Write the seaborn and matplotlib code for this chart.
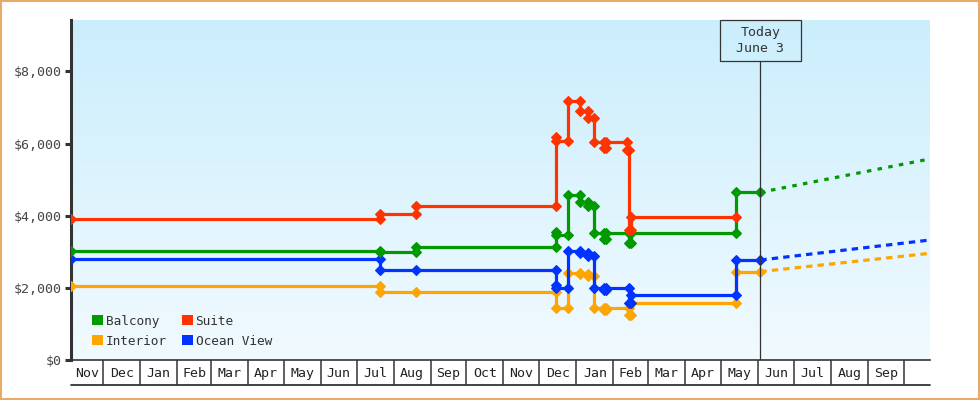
import numpy as np
import pandas as pd
import matplotlib
matplotlib.use("Agg")
import matplotlib.pyplot as plt
import matplotlib.dates as mdates
import matplotlib.patches as mpatches
import matplotlib.transforms as mtransforms
import seaborn as sns

sns.set_theme(style="white")
plt.rcParams['font.family'] = ['DejaVu Sans Mono', 'DejaVu Sans']

# ---------------- data ----------------
suite_dates = ["2022-11-04", "2023-07-21", "2023-07-21", "2023-08-20", "2023-08-20",
               "2023-12-15", "2023-12-15", "2023-12-15", "2023-12-25", "2023-12-25",
               "2024-01-04", "2024-01-04", "2024-01-11", "2024-01-11", "2024-01-16",
               "2024-01-16", "2024-01-24", "2024-01-24", "2024-01-26", "2024-01-26",
               "2024-02-12", "2024-02-12", "2024-02-14", "2024-02-14", "2024-02-16",
               "2024-02-16", "2024-05-14"]
suite_prices = [3900, 3900, 4060, 4060, 4270,
                4270, 6170, 6070, 6070, 7170,
                7170, 6910, 6910, 6720, 6720,
                6050, 6050, 5870, 5870, 6050,
                6050, 5820, 5820, 3600, 3600,
                3975, 3975]

balcony_dates = ["2022-11-04", "2023-07-21", "2023-07-21", "2023-08-20", "2023-08-20",
                 "2023-12-15", "2023-12-15", "2023-12-15", "2023-12-25", "2023-12-25",
                 "2024-01-04", "2024-01-04", "2024-01-11", "2024-01-11", "2024-01-16",
                 "2024-01-16", "2024-01-24", "2024-01-24", "2024-01-26", "2024-01-26",
                 "2024-02-14", "2024-02-14", "2024-02-16", "2024-02-16", "2024-05-14",
                 "2024-05-14", "2024-06-03"]
balcony_prices = [3025, 3025, 3005, 3005, 3145,
                  3145, 3560, 3470, 3470, 4580,
                  4580, 4390, 4390, 4270, 4270,
                  3515, 3515, 3350, 3350, 3515,
                  3515, 3250, 3250, 3515, 3515,
                  4650, 4650]

ocean_dates = ["2022-11-04", "2023-07-21", "2023-07-21", "2023-08-20", "2023-12-15",
               "2023-12-15", "2023-12-15", "2023-12-25", "2023-12-25", "2024-01-04",
               "2024-01-04", "2024-01-11", "2024-01-11", "2024-01-16", "2024-01-16",
               "2024-01-24", "2024-01-24", "2024-01-26", "2024-01-26", "2024-02-14",
               "2024-02-14", "2024-02-16", "2024-02-16", "2024-05-14", "2024-05-14",
               "2024-06-03"]
ocean_prices = [2800, 2800, 2500, 2500, 2500,
                2085, 1995, 1995, 3025, 3025,
                2960, 2960, 2890, 2890, 2010,
                2010, 1945, 1945, 2010, 2010,
                1590, 1590, 1805, 1805, 2776,
                2776]

interior_dates = ["2022-11-04", "2023-07-21", "2023-07-21", "2023-08-20", "2023-12-15",
                  "2023-12-15", "2023-12-25", "2023-12-25", "2024-01-04", "2024-01-04",
                  "2024-01-11", "2024-01-11", "2024-01-16", "2024-01-16", "2024-01-24",
                  "2024-01-24", "2024-01-26", "2024-01-26", "2024-02-14", "2024-02-14",
                  "2024-02-16", "2024-02-16", "2024-05-14", "2024-05-14", "2024-06-03"]
interior_prices = [2055, 2055, 1890, 1890, 1890,
                   1440, 1440, 2425, 2425, 2390,
                   2390, 2340, 2340, 1440, 1440,
                   1380, 1380, 1440, 1440, 1260,
                   1260, 1580, 1580, 2455, 2455]

forecast_dates = ["2024-06-03", "2024-10-23"]
balcony_forecast = [4650, 5575]
ocean_forecast = [2776, 3330]
interior_forecast = [2455, 2962]

legend_order = ["Balcony", "Interior", "Suite", "Ocean View"]
colors = {"Balcony": "#009900", "Interior": "#ffa500",
          "Suite": "#ff3300", "Ocean View": "#0033ff"}

month_labels = ["Nov", "Dec", "Jan", "Feb", "Mar", "Apr", "May", "Jun", "Jul", "Aug",
                "Sep", "Oct", "Nov", "Dec", "Jan", "Feb", "Mar", "Apr", "May", "Jun",
                "Jul", "Aug", "Sep"]
y_ticks = [0, 2000, 4000, 6000, 8000]
y_tick_labels = ["$0", "$2,000", "$4,000", "$6,000", "$8,000"]

x_start, x_end = "2022-11-04", "2024-10-23"
today = "2024-06-03"
today_label = "Today\nJune 3"
y_max = 9420

# ---------------- figure ----------------
W, H = 980, 400
fig = plt.figure(figsize=(W / 100, H / 100), dpi=100)
fig.patch.set_facecolor("white")
ax_l, ax_r, ax_t, ax_b = 71, 930, 20, 360.3
ax = fig.add_axes([ax_l / W, 1 - ax_b / H, (ax_r - ax_l) / W, (ax_b - ax_t) / H])
ax_h_px = ax_b - ax_t

# gradient background
grad = np.linspace(0, 1, 256).reshape(-1, 1)
top_c = np.array([0.796, 0.933, 0.988])
bot_c = np.array([0.945, 0.980, 1.0])
img = top_c[None, None, :] * (1 - grad[:, :, None]) + bot_c[None, None, :] * grad[:, :, None]
ax.imshow(img, extent=[0, 1, 0, 1], transform=ax.transAxes, aspect="auto", zorder=0)

def series(dates, prices, name, **kw):
    d = pd.DataFrame({"date": pd.to_datetime(dates), "price": prices})
    sns.lineplot(data=d, x="date", y="price", estimator=None, sort=False, ax=ax,
                 color=colors[name], **kw)

def markers(name):
    return dict(marker="D", markersize=5.2, markeredgewidth=0.8,
                markeredgecolor=colors[name], markerfacecolor=colors[name],
                linewidth=2.3, zorder=3)

series(interior_dates, interior_prices, "Interior", **markers("Interior"))
series(ocean_dates, ocean_prices, "Ocean View", **markers("Ocean View"))
series(balcony_dates, balcony_prices, "Balcony", **markers("Balcony"))
series(suite_dates, suite_prices, "Suite", **markers("Suite"))

fk = dict(linewidth=2.3, zorder=2)
series(forecast_dates, interior_forecast, "Interior", dashes=(2.0, 1.6), **fk)
series(forecast_dates, ocean_forecast, "Ocean View", dashes=(2.0, 1.6), **fk)
series(forecast_dates, balcony_forecast, "Balcony", dashes=(1.4, 2.0), **fk)

x0 = mdates.date2num(pd.Timestamp(x_start))
x1 = mdates.date2num(pd.Timestamp(x_end))
ax.set_xlim(x0, x1)
ax.set_ylim(0, y_max)
ax.set_xlabel("")
ax.set_ylabel("")
ax.grid(False)

# y axis
ax.set_yticks(y_ticks)
ax.set_yticklabels(y_tick_labels)
ax.tick_params(axis="y", which="major", direction="out", length=4.5, width=2.2,
               color="#333333", labelsize=9.5, labelcolor="#444444", pad=2.2, left=True)

# x axis: month boxes
month_starts = pd.date_range(pd.Timestamp(x_start), pd.Timestamp(x_end), freq="MS")
bounds = [pd.Timestamp(x_start)] + list(month_starts)
mids = []
for i in range(len(month_labels)):
    a = mdates.date2num(bounds[i])
    b = mdates.date2num(bounds[i + 1])
    mids.append((a + b) / 2)
ax.set_xticks(mids)
ax.set_xticklabels(month_labels)
ax.set_xticks([mdates.date2num(m) for m in month_starts], minor=True)
ax.tick_params(axis="x", which="major", length=0, labelsize=9.5, labelcolor="#222222", pad=5)
ax.tick_params(axis="x", which="minor", direction="out", length=17.8, width=1.1,
               color="#333333", bottom=True)
box_bottom = -(385 - ax_b) / ax_h_px
ax.plot([0, 1], [box_bottom, box_bottom], transform=ax.transAxes, color="#333333",
        lw=1.3, clip_on=False, zorder=5)

for s in ["top", "right"]:
    ax.spines[s].set_visible(False)
ax.spines["left"].set_color("#333333")
ax.spines["left"].set_linewidth(2.2)
ax.spines["bottom"].set_color("#333333")
ax.spines["bottom"].set_linewidth(1.2)

# today marker
tnum = mdates.date2num(pd.Timestamp(today))
px_per_day = (ax_r - ax_l) / (x1 - x0)
box_h = 40.7 / ax_h_px
ax.axvline(tnum, ymin=0, ymax=1 - box_h, color="#333333", lw=0.9, zorder=4)
bt = mtransforms.blended_transform_factory(ax.transData, ax.transAxes)
half_w = 40.3 / px_per_day
ax.add_patch(mpatches.Rectangle((tnum - half_w, 1 - box_h), 2 * half_w, box_h,
                                transform=bt, fill=False, ec="#333333", lw=0.9,
                                clip_on=False, zorder=6))
ax.text(tnum, 1 - box_h / 2, today_label, transform=bt, ha="center", va="center",
        fontsize=9.5, color="#333333", linespacing=1.35, zorder=7)

# legend
handles = [mpatches.Patch(facecolor=colors[n], edgecolor="none", label=n) for n in legend_order]
ax.legend(handles=handles, ncol=2, loc="lower left", bbox_to_anchor=(0.0175, 0.018),
          frameon=False, fontsize=9.2, handlelength=0.85, handleheight=0.85,
          handletextpad=0.2, columnspacing=1.2, labelspacing=0.55, borderpad=0,
          labelcolor="#333333")

# figure border
fig.patches.append(mpatches.Rectangle((0.001, 0.002), 0.998, 0.996, transform=fig.transFigure,
                                      fill=False, ec="#e8aa6a", lw=1.5))

fig.savefig("out.png", dpi=100)
